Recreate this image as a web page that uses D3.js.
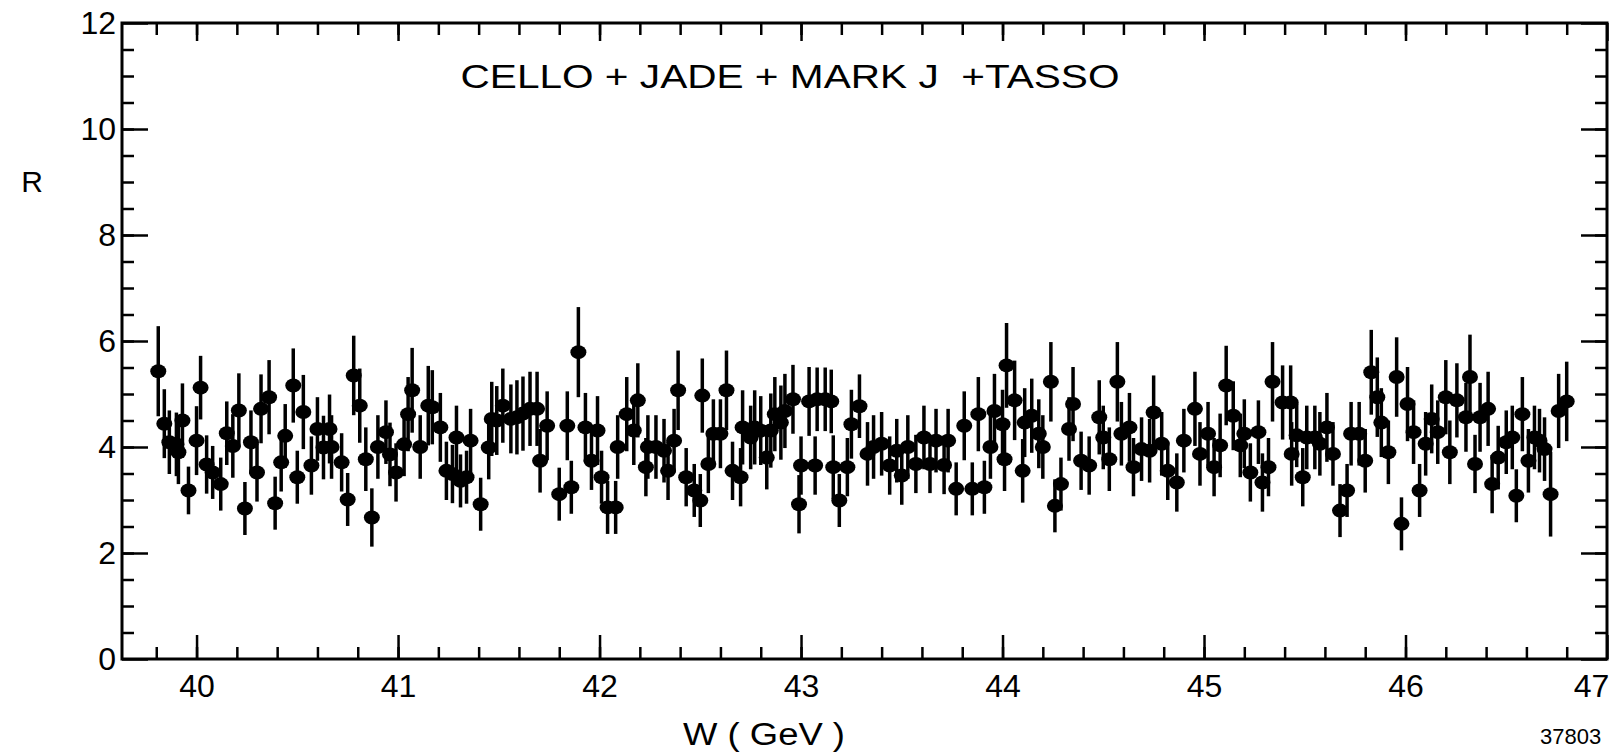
<!DOCTYPE html>
<html><head><meta charset="utf-8">
<script src="https://cdn.jsdelivr.net/npm/d3@7"></script>
<style>
html,body{margin:0;padding:0;background:#fff;}
svg{display:block;background:#fff;}
text{font-family:"Liberation Sans",Arial,sans-serif;fill:#000;}
</style>
</head><body>
<svg id="c" width="1619" height="754"></svg>
<script>
// centre-of-mass energy W (GeV)
const W = [
39.81,39.84,39.865,39.90,39.91,39.93,39.96,40.00,40.02,40.05,40.08,40.12,40.15,40.18,40.21,40.24,40.27,40.30,40.32,40.36,
40.39,40.42,40.44,40.48,40.50,40.53,40.57,40.60,40.63,40.66,40.67,40.72,40.75,40.78,40.81,40.84,40.87,40.90,40.94,40.96,
40.99,41.03,41.05,
41.07,41.11,41.15,41.17,41.21,41.24,41.27,41.29,41.31,41.34,41.36,41.41,41.45,41.465,41.49,41.52,41.56,41.59,41.62,41.655,
41.69,41.705,41.74,41.80,41.84,41.86,41.895,41.93,41.96,41.99,42.01,42.04,42.08,42.09,42.135,42.17,42.19,42.23,42.24,42.28,
42.32,42.34,42.37,42.39,
42.43,42.47,42.50,42.51,42.54,42.565,42.60,42.63,42.66,42.70,42.71,42.75,42.77,42.80,42.83,42.85,42.87,42.90,42.92,42.96,
42.99,43.00,43.04,43.07,43.08,43.12,43.15,43.16,43.19,43.23,43.25,43.29,43.33,43.36,43.40,43.44,43.475,43.50,43.53,43.57,
43.61,43.64,43.67,43.71,43.73,
43.77,43.81,43.85,43.88,43.91,43.94,43.96,44.00,44.01,44.02,44.06,44.10,44.11,44.145,44.18,44.20,44.24,44.26,44.29,44.33,
44.35,44.39,44.43,44.48,44.50,44.53,44.57,44.59,44.63,44.65,44.69,44.73,44.75,44.79,44.82,44.865,44.90,44.955,44.98,45.02,
45.05,
45.08,45.11,45.145,45.18,45.20,45.23,45.27,45.29,45.32,45.34,45.39,45.43,45.435,45.46,45.49,45.51,45.55,45.575,45.61,45.64,
45.675,45.71,45.73,45.77,45.80,45.83,45.86,45.88,45.915,45.956,45.98,46.01,46.04,46.07,46.10,46.13,46.16,46.20,46.22,46.255,
46.30,46.32,46.345,46.37,46.41,46.43,46.46,46.50,46.53,46.55,46.58,46.61,46.64,46.665,46.69,46.72,46.76,46.80
];
// ratio R
const R = [
5.43,4.44,4.09,4.05,3.90,4.50,3.18,4.12,5.12,3.67,3.52,3.30,4.26,4.02,4.69,2.84,4.09,3.52,4.72,4.94,
2.94,3.71,4.21,5.16,3.43,4.66,3.65,4.34,3.99,4.34,4.00,3.71,3.01,5.35,4.78,3.77,2.67,4.00,4.28,3.86,
3.52,4.05,4.62,
5.07,4.00,4.78,4.75,4.37,3.55,3.49,4.18,3.36,3.43,4.12,2.92,3.99,4.53,4.50,4.78,4.53,4.56,4.63,4.72,
4.72,3.74,4.40,3.11,4.40,3.24,5.79,4.37,3.74,4.31,3.43,2.86,2.86,4.00,4.62,4.31,4.88,3.62,4.00,4.00,
3.93,3.55,4.12,5.07,
3.43,3.18,2.99,4.97,3.68,4.25,4.25,5.07,3.55,3.43,4.37,4.18,4.37,4.31,3.80,4.31,4.62,4.46,4.68,4.90,
2.92,3.65,4.86,3.65,4.90,4.90,4.86,3.62,2.99,3.62,4.43,4.77,3.87,4.00,4.06,3.65,3.93,3.46,4.00,3.68,
4.18,3.68,4.12,3.66,4.12,
3.21,4.40,3.21,4.62,3.24,4.00,4.68,4.43,3.77,5.54,4.88,3.55,4.46,4.59,4.25,4.00,5.23,2.89,3.30,4.34,
4.81,3.74,3.65,4.56,4.18,3.77,5.23,4.25,4.37,3.62,3.96,3.93,4.65,4.06,3.55,3.33,4.12,4.72,3.87,4.25,
3.62,
4.03,5.16,4.59,4.03,4.25,3.52,4.28,3.33,3.62,5.23,4.84,4.84,3.87,4.22,3.43,4.18,4.18,4.06,4.37,3.87,
2.80,3.18,4.25,4.25,3.74,5.41,4.94,4.46,3.90,5.32,2.55,4.81,4.28,3.18,4.06,4.53,4.28,4.94,3.90,4.88,
4.56,5.32,3.68,4.56,4.72,3.30,3.80,4.09,4.18,3.08,4.62,3.74,4.18,4.12,3.96,3.11,4.68,4.86
];
// error on R
const E = [
0.85,0.65,0.60,0.60,0.60,0.70,0.45,0.65,0.60,0.55,0.50,0.50,0.60,0.60,0.70,0.50,0.60,0.55,0.65,0.70,
0.50,0.55,0.60,0.70,0.50,0.70,0.55,0.60,0.60,0.65,0.60,0.55,0.50,0.75,0.70,0.60,0.55,0.60,0.60,0.60,
0.55,0.60,0.70,
0.80,0.60,0.75,0.70,0.65,0.55,0.55,0.60,0.50,0.50,0.60,0.50,0.60,0.70,0.65,0.70,0.65,0.70,0.70,0.70,
0.70,0.60,0.65,0.50,0.65,0.50,0.85,0.65,0.55,0.65,0.50,0.50,0.50,0.60,0.70,0.65,0.70,0.55,0.60,0.60,
0.60,0.55,0.60,0.75,
0.55,0.50,0.50,0.70,0.55,0.65,0.65,0.75,0.55,0.55,0.70,0.60,0.70,0.65,0.60,0.70,0.70,0.70,0.70,0.65,
0.55,0.55,0.65,0.55,0.60,0.60,0.60,0.60,0.50,0.55,0.65,0.60,0.60,0.60,0.60,0.55,0.60,0.55,0.60,0.55,
0.60,0.55,0.60,0.55,0.60,
0.50,0.65,0.50,0.70,0.50,0.60,0.70,0.65,0.60,0.80,0.75,0.60,0.65,0.70,0.65,0.60,0.75,0.50,0.50,0.60,
0.70,0.55,0.55,0.70,0.60,0.60,0.75,0.60,0.65,0.55,0.60,0.60,0.70,0.60,0.55,0.55,0.60,0.70,0.60,0.60,
0.55,
0.60,0.75,0.65,0.60,0.65,0.55,0.60,0.55,0.55,0.75,0.70,0.70,0.60,0.60,0.55,0.60,0.60,0.60,0.65,0.60,
0.50,0.50,0.60,0.60,0.60,0.80,0.75,0.65,0.60,0.75,0.50,0.70,0.60,0.50,0.60,0.65,0.60,0.70,0.60,0.70,
0.65,0.80,0.55,0.65,0.70,0.55,0.60,0.60,0.60,0.50,0.70,0.60,0.60,0.60,0.60,0.80,0.70,0.75
];
const xTicks = [40,41,42,43,44,45,46,47];
const yTicks = [0,2,4,6,8,10,12];
const title = "CELLO + JADE + MARK J  +TASSO";
const xLabel = "W ( GeV )";
const yLabel = "R";
const figId = "37803";

const data = W.map((w,i)=>({w:w, r:R[i], e:E[i]}));

const svg = d3.select("#c");
const X0 = 122, X1 = 1607, Y0 = 659, Y1 = 23;
const x = d3.scaleLinear().domain([39.63, 47.0]).range([X0, X1]);
const y = d3.scaleLinear().domain([0, 12]).range([Y0, Y1]);

const xMinor = d3.range(39.8, 46.95, 0.2).map(v=>+v.toFixed(2));
const yMinor = d3.range(0.5, 12, 0.5);

function styleAxis(g){
  g.select(".domain").remove();
  g.selectAll("line").attr("stroke","#000").attr("stroke-width",2.5);
  g.selectAll("text").style("font-family",'"Liberation Sans",Arial,sans-serif').attr("fill","#000");
}

// bottom axis
svg.append("g").attr("transform",`translate(0,${Y0})`)
  .call(d3.axisBottom(x).tickValues(xMinor).tickSizeInner(-12).tickSizeOuter(0).tickFormat(""))
  .call(styleAxis);
const gxb = svg.append("g").attr("transform",`translate(0,${Y0})`)
  .call(d3.axisBottom(x).tickValues(xTicks).tickSizeInner(-24).tickSizeOuter(0).tickPadding(15).tickFormat(d3.format("d")))
  .call(styleAxis);
gxb.selectAll("text").style("font-size","32px");
gxb.selectAll(".tick text").filter(d=>d===47).attr("dx",-16);

// top axis
svg.append("g").attr("transform",`translate(0,${Y1})`)
  .call(d3.axisTop(x).tickValues(xMinor).tickSizeInner(-12).tickSizeOuter(0).tickFormat(""))
  .call(styleAxis);
svg.append("g").attr("transform",`translate(0,${Y1})`)
  .call(d3.axisTop(x).tickValues(xTicks).tickSizeInner(-18).tickSizeOuter(0).tickFormat(""))
  .call(styleAxis);

// left axis
svg.append("g").attr("transform",`translate(${X0},0)`)
  .call(d3.axisLeft(y).tickValues(yMinor).tickSizeInner(-12).tickSizeOuter(0).tickFormat(""))
  .call(styleAxis);
const gyl = svg.append("g").attr("transform",`translate(${X0},0)`)
  .call(d3.axisLeft(y).tickValues(yTicks).tickSizeInner(-26).tickSizeOuter(0).tickPadding(6).tickFormat(d3.format("d")))
  .call(styleAxis);
gyl.selectAll("text").style("font-size","32px");

// right axis
svg.append("g").attr("transform",`translate(${X1},0)`)
  .call(d3.axisRight(y).tickValues(yMinor).tickSizeInner(-12).tickSizeOuter(0).tickFormat(""))
  .call(styleAxis);
svg.append("g").attr("transform",`translate(${X1},0)`)
  .call(d3.axisRight(y).tickValues(yTicks).tickSizeInner(-26).tickSizeOuter(0).tickFormat(""))
  .call(styleAxis);

// frame
svg.append("rect").attr("x",X0).attr("y",Y1).attr("width",X1-X0).attr("height",Y0-Y1)
  .attr("fill","none").attr("stroke","#000").attr("stroke-width",3);

// error bars
svg.append("g").selectAll("line").data(data).join("line")
  .attr("x1",d=>x(d.w)).attr("x2",d=>x(d.w))
  .attr("y1",d=>y(d.r+d.e)).attr("y2",d=>y(d.r-d.e))
  .attr("stroke","#000").attr("stroke-width",3.5);

// markers
svg.append("g").selectAll("ellipse").data(data).join("ellipse")
  .attr("cx",d=>x(d.w)).attr("cy",d=>y(d.r))
  .attr("rx",8).attr("ry",7).attr("fill","#000");

// texts
svg.append("text").attr("x",790).attr("y",88).attr("text-anchor","middle")
  .style("font-size","34px").style("white-space","pre")
  .attr("textLength",659).attr("lengthAdjust","spacingAndGlyphs").text(title);
svg.append("text").attr("x",764).attr("y",745).attr("text-anchor","middle")
  .style("font-size","31px").style("white-space","pre")
  .attr("textLength",162).attr("lengthAdjust","spacingAndGlyphs").text(xLabel);
svg.append("text").attr("x",32).attr("y",192).attr("text-anchor","middle")
  .style("font-size","30px").text(yLabel);
svg.append("text").attr("x",1540).attr("y",744)
  .style("font-size","22px").text(figId);
</script>
</body></html>
